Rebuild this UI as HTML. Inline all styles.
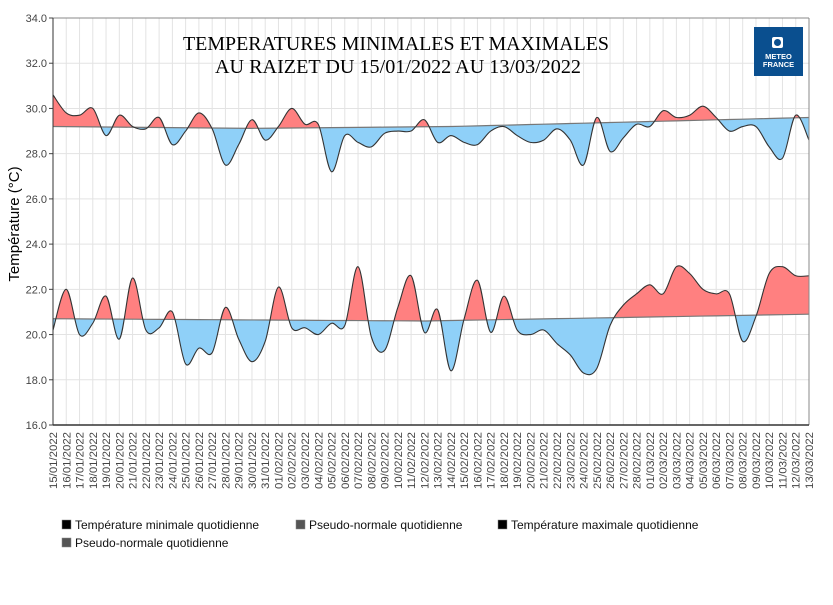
<!DOCTYPE html>
<html><head><meta charset="utf-8"><style>
body{margin:0;background:#fff;width:833px;height:600px;overflow:hidden}
svg text{font-family:"Liberation Sans",sans-serif}
</style></head><body>
<svg id="s" width="833" height="600" xmlns="http://www.w3.org/2000/svg"></svg>
<script>
const L=53,R=809,T=18,B=425;
const n=58,dx=(R-L)/(n-1);
const X=i=>L+i*dx, Y=v=>T+(34-v)*(B-T)/18;
const mx=[30.6,29.8,29.7,30.0,28.8,29.7,29.2,29.1,29.6,28.4,29.0,29.8,29.1,27.5,28.4,29.5,28.6,29.2,30.0,29.3,29.3,27.2,28.8,28.5,28.3,28.9,29.0,29.0,29.5,28.5,28.8,28.5,28.4,29.0,29.2,28.8,28.5,28.6,29.1,28.6,27.5,29.6,28.1,28.7,29.3,29.2,29.9,29.6,29.7,30.1,29.6,29.0,29.2,29.2,28.3,27.8,29.7,28.6];
const mn=[20.2,22.0,20.0,20.5,21.7,19.8,22.5,20.2,20.3,21.0,18.7,19.4,19.2,21.2,19.8,18.8,19.7,22.1,20.3,20.3,20.0,20.5,20.4,23.0,19.9,19.3,21.2,22.6,20.1,21.1,18.4,20.7,22.4,20.1,21.7,20.2,20.0,20.2,19.6,19.1,18.3,18.5,20.4,21.3,21.8,22.2,21.8,23.0,22.7,22.0,21.8,21.8,19.7,20.8,22.7,23.0,22.6,22.6];
const nmx=i=>i<15?29.2-0.08*i/15:(i<30?29.12+0.08*(i-15)/15:29.2+0.4*(i-30)/27);
const nmn=i=>i<28?20.7-0.1*i/28:20.6+0.3*(i-28)/29;
let h='';
for(let v=16;v<=34;v+=2){h+=`<line x1="${L}" x2="${R}" y1="${Y(v)}" y2="${Y(v)}" stroke="#e3e3e3"/>`;
h+=`<text x="47" y="${Y(v)+4}" font-size="11" fill="#444" text-anchor="end">${v.toFixed(1)}</text><line x1="49" x2="${L}" y1="${Y(v)}" y2="${Y(v)}" stroke="#444"/>`;}
const labels=[];
for(let d=15;d<=31;d++)labels.push(String(d).padStart(2,'0')+'/01/2022');
for(let d=1;d<=28;d++)labels.push(String(d).padStart(2,'0')+'/02/2022');
for(let d=1;d<=13;d++)labels.push(String(d).padStart(2,'0')+'/03/2022');
for(let i=0;i<n;i++){const x=X(i);if(i>0&&i<n-1)h+=`<line x1="${x}" x2="${x}" y1="${T}" y2="${B}" stroke="#e3e3e3"/>`;
h+=`<text transform="translate(${x+4},${B+7}) rotate(-90)" font-size="11" fill="#444" text-anchor="end" textLength="57" lengthAdjust="spacingAndGlyphs">${labels[i]}</text>`;}
function path(d){const p=d.map((v,i)=>[X(i),Y(v)]);let s=`M${p[0][0]},${p[0][1]}`;
for(let i=0;i<p.length-1;i++){const p0=p[Math.max(0,i-1)],p1=p[i],p2=p[i+1],p3=p[Math.min(p.length-1,i+2)];
const c1=[p1[0]+(p2[0]-p0[0])/6,p1[1]+(p2[1]-p0[1])/6],c2=[p2[0]-(p3[0]-p1[0])/6,p2[1]-(p3[1]-p1[1])/6];
s+=`C${c1[0]},${c1[1]} ${c2[0]},${c2[1]} ${p2[0]},${p2[1]}`;}return s;}
function series(d,nf,id){const c=path(d);let nl='';for(let i=n-1;i>=0;i--)nl+=`L${X(i)},${Y(nf(i))}`;
let up=`M${L},${T}L${R},${T}`,dn=`M${L},${B}L${R},${B}`;for(let i=n-1;i>=0;i--){up+=`L${X(i)},${Y(nf(i))}`;dn+=`L${X(i)},${Y(nf(i))}`;}
let nline=`M${X(0)},${Y(nf(0))}`;for(let i=1;i<n;i++)nline+=`L${X(i)},${Y(nf(i))}`;
h+=`<clipPath id="u${id}"><path d="${up}Z"/></clipPath><clipPath id="d${id}"><path d="${dn}Z"/></clipPath>`;
h+=`<path d="${c}${nl}Z" fill="#ff8080" clip-path="url(#u${id})"/><path d="${c}${nl}Z" fill="#8fd0f8" clip-path="url(#d${id})"/>`;
h+=`<path d="${nline}" fill="none" stroke="#777" stroke-width="1.2"/><path d="${c}" fill="none" stroke="#333" stroke-width="1.1"/>`;}
series(mx,nmx,1);series(mn,nmn,2);
h+=`<line x1="${L}" x2="${R}" y1="${T}" y2="${T}" stroke="#888"/><line x1="${R}" x2="${R}" y1="${T}" y2="${B}" stroke="#888"/>`;
h+=`<line x1="${L}" x2="${L}" y1="${T}" y2="${B}" stroke="#333"/><line x1="${L}" x2="${R}" y1="${B}" y2="${B}" stroke="#333" stroke-width="1.5"/>`;
h+=`<text transform="translate(19,224) rotate(-90)" font-size="15" fill="#000" text-anchor="middle">Température (°C)</text>`;
h+=`<text x="396" y="50" font-size="20" text-anchor="middle" textLength="426" lengthAdjust="spacingAndGlyphs" style="font-family:'Liberation Serif',serif">TEMPERATURES MINIMALES ET MAXIMALES</text>`;
h+=`<text x="398" y="73" font-size="20" text-anchor="middle" textLength="366" lengthAdjust="spacingAndGlyphs" style="font-family:'Liberation Serif',serif">AU RAIZET DU 15/01/2022 AU 13/03/2022</text>`;
h+=`<rect x="754" y="27" width="49" height="49" fill="#0a4f8f"/><rect x="772" y="37" width="11" height="11" rx="2" fill="#fff"/><circle cx="777.5" cy="42.5" r="3.5" fill="#0a4f8f"/>`;
h+=`<text x="778.5" y="59" font-size="7.5" font-weight="bold" fill="#fff" text-anchor="middle">METEO</text><text x="778.5" y="67" font-size="7.5" font-weight="bold" fill="#fff" text-anchor="middle">FRANCE</text>`;
const lg=[[62,529,'#000','Température minimale quotidienne'],[296,529,'#555','Pseudo-normale quotidienne'],[498,529,'#000','Température maximale quotidienne'],[62,547,'#555','Pseudo-normale quotidienne']];
for(const [x,y,c,t] of lg)h+=`<rect x="${x}" y="${y-9}" width="9" height="9" fill="${c}" stroke="#888" stroke-width="0.5"/><text x="${x+13}" y="${y}" font-size="12" fill="#111">${t}</text>`;
document.getElementById('s').innerHTML=h;
</script>
</body></html>
